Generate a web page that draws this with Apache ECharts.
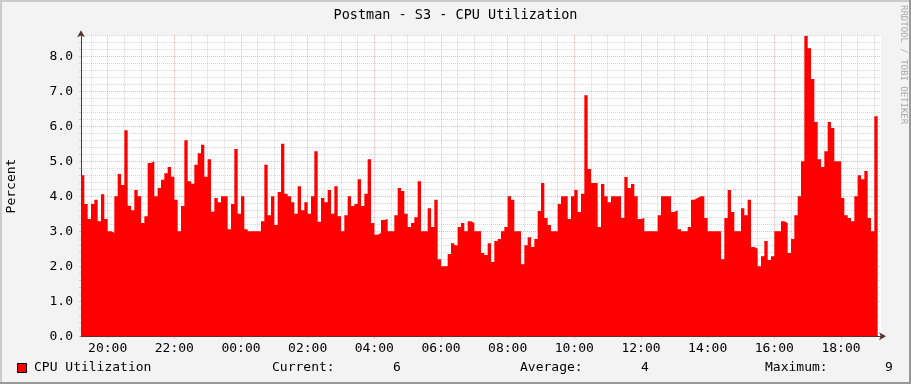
<!DOCTYPE html>
<html><head><meta charset="utf-8">
<script src="https://cdn.jsdelivr.net/npm/echarts@6/dist/echarts.min.js"></script>
<style>html,body{margin:0;padding:0;background:#F3F3F3}#c{width:911px;height:384px}</style>
</head><body><div id="c"></div>
<script>
const chartTitle = 'Postman - S3 - CPU Utilization';
const yAxisName = 'Percent';
const seriesName = 'CPU Utilization';
// sample boundary times: 6-minute steps from 19:12 to 19:12 next day
const startHour = 19, startMinute = 12, stepMinutes = 6, sampleCount = 240;
const times = [];
for (let k = 0; k <= sampleCount; k++) {
  const m = (startHour * 60 + startMinute + k * stepMinutes) % 1440;
  times.push(String(Math.floor(m / 60)).padStart(2, '0') + ':' + String(m % 60).padStart(2, '0'));
}
const xTickLabels = ['20:00','22:00','00:00','02:00','04:00','06:00','08:00','10:00','12:00','14:00','16:00','18:00'];
const yTickLabels = ['0.0','1.0','2.0','3.0','4.0','5.0','6.0','7.0','8.0'];
// value of the sample ending at each boundary time (RRD convention)
const cpu = [
  4.4,
  4.6, 3.78, 3.35, 3.78, 3.9, 3.29, 4.06, 3.35, 3.0, 2.96, 4.0, 4.64, 4.32, 5.89, 3.73, 3.6, 4.18, 4.0, 3.24, 3.43, 4.95, 5.0, 4.0, 4.24, 4.47, 4.66, 4.84, 4.56, 3.9, 3.0,
  3.72, 5.6, 4.43, 4.36, 4.9, 5.23, 5.47, 4.56, 5.06, 3.56, 3.95, 3.83, 4.0, 4.0, 3.06, 3.78, 5.35, 3.5, 4.0, 3.06, 3.0, 3.0, 3.0, 3.0, 3.29, 4.9, 3.46, 4.0, 3.18, 4.12,
  5.5, 4.07, 4.0, 3.83, 3.5, 4.29, 3.6, 3.83, 3.5, 4.0, 5.29, 3.27, 3.95, 3.83, 4.18, 3.5, 4.29, 3.43, 3.0, 3.46, 4.0, 3.72, 3.78, 4.49, 3.72, 4.07, 5.06, 3.24, 2.9, 2.95,
  3.32, 3.35, 3.0, 3.0, 3.46, 4.24, 4.15, 3.5, 3.12, 3.24, 3.4, 4.43, 3.0, 3.0, 3.66, 3.12, 3.9, 2.2, 2.0, 2.0, 2.35, 2.66, 2.6, 3.12, 3.24, 3.0, 3.29, 3.24, 3.0, 3.0,
  2.38, 2.32, 2.66, 2.12, 2.72, 2.78, 3.0, 3.12, 4.0, 3.9, 3.0, 3.0, 2.06, 2.6, 2.83, 2.55, 2.78, 3.58, 4.38, 3.38, 3.18, 3.0, 3.0, 3.78, 4.0, 4.0, 3.35, 4.0, 4.18, 3.55,
  4.07, 6.89, 4.78, 4.38, 4.38, 3.12, 4.35, 4.0, 3.83, 4.0, 4.0, 4.0, 3.38, 4.55, 4.24, 4.35, 4.0, 3.35, 3.38, 3.0, 3.0, 3.0, 3.0, 3.46, 4.0, 4.0, 4.0, 3.55, 3.6, 3.06,
  3.0, 3.0, 3.12, 3.9, 3.95, 4.0, 4.0, 3.38, 3.0, 3.0, 3.0, 3.0, 2.2, 3.38, 4.18, 3.55, 3.0, 3.0, 3.66, 3.46, 3.9, 2.55, 2.5, 2.0, 2.29, 2.72, 2.18, 2.29, 3.0, 3.0,
  3.29, 3.24, 2.38, 2.78, 3.46, 4.0, 5.0, 8.58, 8.23, 7.35, 6.12, 5.06, 4.84, 5.29, 6.12, 5.95, 5.0, 5.0, 3.95, 3.46, 3.38, 3.29, 4.0, 4.6, 4.49, 4.72, 3.38, 3.0, 6.29,
  null
];

const vals = cpu.slice(1).filter(v => v != null);
const current = vals[vals.length - 1];
const average = vals.reduce((a, b) => a + b, 0) / vals.length;
const maximum = Math.max.apply(null, vals);

const FONT = 'DejaVu Sans Mono';
const MINOR = 'rgba(140,140,140,0.35)';
const MAJOR = 'rgba(225,50,50,0.38)';
const AXIS = '#5a3030';

const chart = echarts.init(document.getElementById('c'), null, {renderer: 'canvas'});
const isMinorX = (i, v) => (v.endsWith(':00') || v.endsWith(':30')) && xTickLabels.indexOf(v) < 0;
const isMajorX = (i, v) => xTickLabels.indexOf(v) >= 0;

chart.setOption({
  backgroundColor: '#F3F3F3',
  animation: false,
  title: {
    text: chartTitle, left: 'center', top: 3,
    textStyle: {fontFamily: FONT, fontSize: 13.5, fontWeight: 'normal', color: '#000'}
  },
  grid: {left: 81, top: 35.3, width: 800, height: 301, show: true, backgroundColor: '#FFFFFF', borderWidth: 0, containLabel: false},
  xAxis: [
    {
      type: 'category', data: times, boundaryGap: false, position: 'bottom',
      axisLine: {show: false}, axisTick: {show: false}, axisLabel: {show: false},
      splitLine: {show: true, interval: isMinorX, lineStyle: {color: MINOR, width: 1, type: [1, 1]}}
    },
    {
      type: 'category', data: times, boundaryGap: false, position: 'bottom',
      axisLine: {show: true, onZero: false, lineStyle: {color: AXIS, width: 1}, symbol: ['none', 'arrow'], symbolSize: [6, 7], symbolOffset: [0, 5]},
      axisTick: {show: true, interval: isMajorX, length: 2, lineStyle: {color: MAJOR}},
      axisLabel: {show: true, interval: isMajorX, margin: 6, fontFamily: FONT, fontSize: 13, color: '#000'},
      splitLine: {show: true, interval: isMajorX, lineStyle: {color: MAJOR, width: 1, type: [1, 1]}}
    }
  ],
  yAxis: {
    type: 'value', min: 0, max: 8.6, interval: 0.2,
    axisLine: {show: true, lineStyle: {color: AXIS, width: 1}, symbol: ['none', 'arrow'], symbolSize: [6, 7], symbolOffset: [0, 5]},
    axisTick: {show: true, length: 2, lineStyle: {color: MINOR}},
    axisLabel: {
      margin: 8, fontFamily: FONT, fontSize: 13, color: '#000', showMaxLabel: false,
      formatter: v => { const s = v.toFixed(1); return yTickLabels.indexOf(s) >= 0 && Math.abs(v - Math.round(v)) < 1e-6 ? s : ''; }
    },
    splitLine: {show: true, lineStyle: {color: [MAJOR, MINOR, MINOR, MINOR, MINOR], width: 1, type: [1, 1]}}
  },
  series: [{
    name: seriesName, type: 'line', xAxisIndex: 1, data: cpu, step: 'start',
    symbol: 'none', showSymbol: false, connectNulls: false,
    lineStyle: {width: 0, color: '#FF0000'},
    itemStyle: {color: '#FF0000'},
    areaStyle: {color: '#FF0000', opacity: 1},
    z: 1
  }],
  graphic: [
    {type: 'rect', shape: {x: 0, y: 0, width: 911, height: 2}, style: {fill: '#CBCBCB'}, silent: true},
    {type: 'rect', shape: {x: 0, y: 0, width: 2, height: 384}, style: {fill: '#CBCBCB'}, silent: true},
    {type: 'rect', shape: {x: 0, y: 382, width: 911, height: 2}, style: {fill: '#999999'}, silent: true},
    {type: 'rect', shape: {x: 909, y: 0, width: 2, height: 384}, style: {fill: '#999999'}, silent: true},
    {type: 'text', x: 12, y: 186, rotation: Math.PI / 2, style: {text: yAxisName, textAlign: 'center', textVerticalAlign: 'middle', font: '13px "' + FONT + '"', fill: '#000'}},
    {type: 'text', x: 903, y: 5, rotation: -Math.PI / 2, style: {text: 'RRDTOOL / TOBI OETIKER', textAlign: 'left', textVerticalAlign: 'middle', font: '9px "' + FONT + '"', fill: '#AAAAAA'}},
    {type: 'rect', shape: {x: 17.5, y: 363.5, width: 9, height: 9}, style: {fill: '#FF0000', stroke: '#000', lineWidth: 1}},
    {type: 'text', x: 34, y: 368, style: {text: seriesName, textVerticalAlign: 'middle', font: '13px "' + FONT + '"', fill: '#000'}},
    {type: 'text', x: 272, y: 368, style: {text: 'Current:', textVerticalAlign: 'middle', font: '13px "' + FONT + '"', fill: '#000'}},
    {type: 'text', x: 393, y: 368, style: {text: current.toFixed(0), textVerticalAlign: 'middle', font: '13px "' + FONT + '"', fill: '#000'}},
    {type: 'text', x: 520, y: 368, style: {text: 'Average:', textVerticalAlign: 'middle', font: '13px "' + FONT + '"', fill: '#000'}},
    {type: 'text', x: 641, y: 368, style: {text: average.toFixed(0), textVerticalAlign: 'middle', font: '13px "' + FONT + '"', fill: '#000'}},
    {type: 'text', x: 765, y: 368, style: {text: 'Maximum:', textVerticalAlign: 'middle', font: '13px "' + FONT + '"', fill: '#000'}},
    {type: 'text', x: 885, y: 368, style: {text: maximum.toFixed(0), textVerticalAlign: 'middle', font: '13px "' + FONT + '"', fill: '#000'}}
  ]
});
</script></body></html>
